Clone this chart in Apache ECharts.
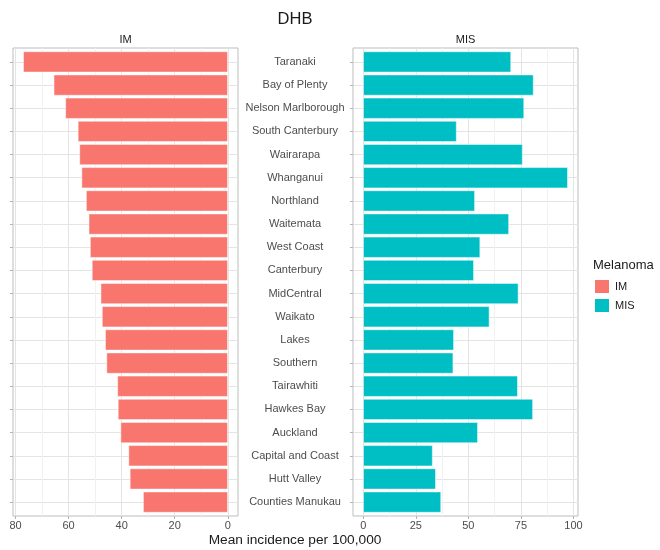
<!DOCTYPE html>
<html><head><meta charset="utf-8">
<script src="https://cdn.jsdelivr.net/npm/echarts@6/dist/echarts.min.js"></script>
<style>html,body{margin:0;padding:0;background:#fff}#c{width:660px;height:550px}</style>
</head><body><div id="c"></div>
<script>
const categories = ['Taranaki','Bay of Plenty','Nelson Marlborough','South Canterbury','Wairarapa','Whanganui','Northland','Waitemata','West Coast','Canterbury','MidCentral','Waikato','Lakes','Southern','Tairawhiti','Hawkes Bay','Auckland','Capital and Coast','Hutt Valley','Counties Manukau'];
const imValues = [77.1,65.6,61.2,56.5,55.9,55.1,53.4,52.4,51.9,51.2,47.9,47.4,46.2,45.7,41.6,41.4,40.4,37.4,36.9,31.9];
const misValues = [70.3,81.0,76.5,44.4,75.8,97.3,53.1,69.3,55.6,52.6,73.8,60.0,43.1,42.8,73.5,80.7,54.5,33.0,34.5,37.0];
const imTicks = [0,20,40,60,80];
const misTicks = [0,25,50,75,100];
const seriesNames = ['IM','MIS'];
const colors = ['#F8766D','#00BFC4'];

const PT = 48, PH = 468, PW = 225;
const panelLeft = [13, 353];
const n = categories.length;
const ky = PH / (n - 1 + 1.2);
const font = '"Liberation Sans", Arial, sans-serif';
const gridCol = '#e4e4e4', minorCol = '#f1f1f1', borderCol = '#bdbdbd', tickCol = '#b3b3b3';

function build(p, values, ticks, inverse) {
  const max = Math.max(...values);
  const lo = -0.05 * max, hi = max * 1.05;
  const kx = PW / (hi - lo);
  const L = panelLeft[p];
  const tmin = ticks[0], tmax = ticks[ticks.length - 1];
  let dLeft;
  if (inverse) dLeft = L + PW - (tmax - lo) * kx; else dLeft = L + (tmin - lo) * kx;
  const dWidth = (tmax - tmin) * kx;
  const grids = [
    {left: L, top: PT, width: PW, height: PH, show: true, borderColor: borderCol, borderWidth: 1, backgroundColor: 'transparent'},
    {left: L, top: PT + 0.1 * ky, width: PW, height: n * ky},
    {left: dLeft, top: PT, width: dWidth, height: PH},
    {left: L, top: PT + 0.6 * ky, width: PW, height: (n - 1) * ky}
  ];
  const base = p * 4;
  const hidV = (gi) => ({type: 'value', gridIndex: gi, show: false, min: 0, max: 1});
  const xAxes = [
    hidV(base),
    {type: 'value', gridIndex: base + 1, show: false, min: lo, max: hi, inverse: inverse},
    {type: 'value', gridIndex: base + 2, min: tmin, max: tmax, interval: ticks[1] - ticks[0], inverse: inverse,
     axisLine: {show: false}, axisTick: {show: true, length: 3, lineStyle: {color: tickCol}},
     axisLabel: {color: '#4d4d4d', fontSize: 11, fontFamily: font, margin: 4},
     splitLine: {show: true, lineStyle: {color: gridCol, width: 1}},
     minorTick: {show: false, splitNumber: 2},
     minorSplitLine: {show: true, lineStyle: {color: minorCol, width: 1}}},
    hidV(base + 3)
  ];
  const yAxes = [
    hidV(base),
    {type: 'category', gridIndex: base + 1, data: categories, inverse: true,
     axisLine: {show: false}, axisTick: {show: false}, splitLine: {show: false},
     axisLabel: p === 1 ? {show: true, align: 'center', margin: 58, color: '#4d4d4d', fontSize: 11, fontFamily: font} : {show: false}},
    hidV(base + 2),
    {type: 'value', gridIndex: base + 3, min: 1, max: n, interval: 1,
     axisLine: {show: false}, axisTick: {show: true, length: 3, lineStyle: {color: tickCol}},
     axisLabel: {show: false}, splitLine: {show: true, lineStyle: {color: gridCol, width: 1}}}
  ];
  const series = {
    name: seriesNames[p], type: 'bar', xAxisIndex: base + 1, yAxisIndex: base + 1,
    data: values, barCategoryGap: '10%',
    itemStyle: {color: colors[p], borderColor: '#ffffff', borderWidth: 0.5}
  };
  return {grids, xAxes, yAxes, series};
}

const a = build(0, imValues, imTicks, true);
const b = build(1, misValues, misTicks, false);

const option = {
  animation: false,
  backgroundColor: '#ffffff',
  textStyle: {fontFamily: font},
  grid: a.grids.concat(b.grids),
  xAxis: a.xAxes.concat(b.xAxes),
  yAxis: a.yAxes.concat(b.yAxes),
  series: [a.series, b.series],
  legend: {
    data: seriesNames, orient: 'vertical', left: 593, top: 278, itemWidth: 16, itemHeight: 15, itemGap: 2,
    icon: 'rect', padding: 0, selectedMode: false,
    textStyle: {fontSize: 11, color: '#1a1a1a', fontFamily: font}
  },
  graphic: [
    {type: 'text', x: 295, y: 19, style: {text: 'DHB', fontSize: 16.5, fill: '#1a1a1a', fontFamily: font, textAlign: 'center', textVerticalAlign: 'middle'}},
    {type: 'text', x: panelLeft[0] + PW / 2, y: 39.5, style: {text: seriesNames[0], fontSize: 11, fill: '#1a1a1a', fontFamily: font, textAlign: 'center', textVerticalAlign: 'middle'}},
    {type: 'text', x: panelLeft[1] + PW / 2, y: 39.5, style: {text: seriesNames[1], fontSize: 11, fill: '#1a1a1a', fontFamily: font, textAlign: 'center', textVerticalAlign: 'middle'}},
    {type: 'text', x: 295, y: 540.5, style: {text: 'Mean incidence per 100,000', fontSize: 13.7, fill: '#1a1a1a', fontFamily: font, textAlign: 'center', textVerticalAlign: 'middle'}},
    {type: 'text', x: 593, y: 265, style: {text: 'Melanoma', fontSize: 13, fill: '#1a1a1a', fontFamily: font, textAlign: 'left', textVerticalAlign: 'middle'}}
  ]
};
const chart = echarts.init(document.getElementById('c'), null, {renderer: 'canvas'});
chart.setOption(option);
</script>
</body></html>
